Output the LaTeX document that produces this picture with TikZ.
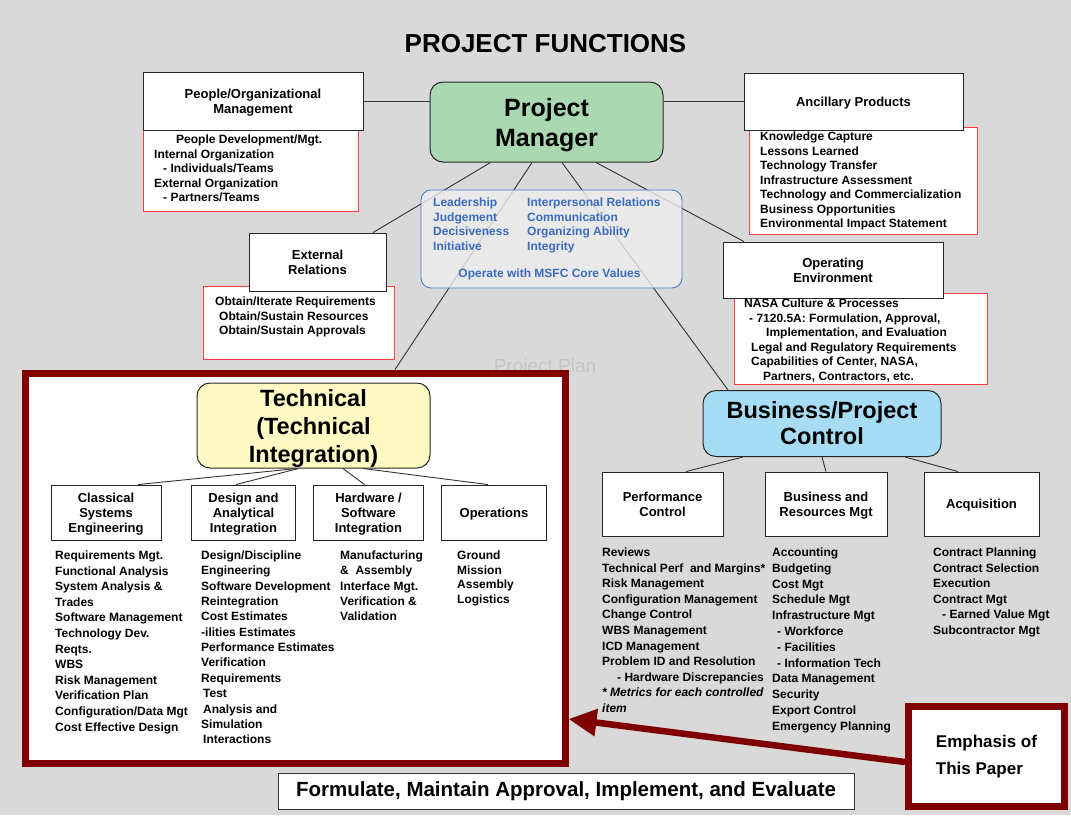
\documentclass[tikz,border=0pt]{standalone}
\usepackage{fontspec}
\setmainfont{Liberation Sans}
\usetikzlibrary{arrows.meta}
\definecolor{slidegray}{HTML}{D9D9D9}
\definecolor{pmgreen}{HTML}{A9D8B1}
\definecolor{techyellow}{HTML}{FFFAC3}
\definecolor{bizblue}{HTML}{A6DDF5}
\definecolor{coreblue}{HTML}{4A7BC8}
\definecolor{coretext}{HTML}{3B6BBF}
\definecolor{listred}{HTML}{FF3B3B}
\definecolor{darkred}{HTML}{7F0000}
\definecolor{ghost}{HTML}{C6C6C6}
\tikzset{
  headbox/.style={draw=black!85, fill=white, line width=0.9pt, align=center, inner sep=0pt, text depth=0pt,
    font=\fontsize{13}{15}\selectfont\bfseries},
  redbox/.style={draw=listred, fill=white, line width=1pt},
  listtext/.style={anchor=north west, align=left, inner sep=0pt,
    font=\fontsize{12}{14.5}\selectfont\bfseries},
  looselist/.style={listtext, font=\fontsize{12}{15.6}\selectfont\bfseries},
  bigbox/.style={draw=black!85, rounded corners=13pt, line width=1pt, align=center, inner sep=0pt},
  link/.style={draw=black!80, line width=0.9pt},
}
\begin{document}
\begin{tikzpicture}[x=1pt,y=-1pt]
            \useasboundingbox (0,0) rectangle (1071,815);
            \fill[slidegray] (0,0) rectangle (1071,815);
            \node[font=\fontsize{26}{30}\selectfont\bfseries] (title) at (545.5,44) {PROJECT FUNCTIONS};
            \node[text=ghost, font=\fontsize{19}{22}\selectfont] (plan) at (545,368) {Project Plan};
            % people / ancillary / external / operating
            \draw[redbox] (143,130) rectangle (358,211);
            \draw[redbox] (749,127) rectangle (977,234);
            \draw[redbox] (203,286) rectangle (394,359);
            \draw[redbox] (734,293) rectangle (987,384);
            \node[headbox, minimum width=220, minimum height=58] (people) at (253,101) {People/Organizational\\Management};
            \node[headbox, minimum width=219, minimum height=57] (ancil) at (853.5,101.5) {Ancillary Products};
            \node[headbox, minimum width=137, minimum height=58] (extrel) at (317.5,262) {External\\Relations};
            \node[headbox, minimum width=220, minimum height=56] (openv) at (833,270) {Operating\\Environment};
            \node[listtext] (peoplelist) at (154,134.6) {\hspace*{22pt}People Development/Mgt.\\Internal Organization\\\hspace*{9pt}- Individuals/Teams\\External Organization\\\hspace*{9pt}- Partners/Teams};
            \node[listtext] (ancillist) at (760,131.6) {Knowledge Capture\\Lessons Learned\\Technology Transfer\\Infrastructure Assessment\\Technology and Commercialization\\Business Opportunities\\Environmental Impact Statement};
            \node[listtext] (extlist) at (215,296.6) {Obtain/Iterate Requirements\\\hspace*{4pt}Obtain/Sustain Resources\\\hspace*{4pt}Obtain/Sustain Approvals};
            \node[listtext] (envlist) at (744,298.6) {NASA Culture \& Processes\\\hspace*{5pt}- 7120.5A: Formulation, Approval,\\\hspace*{22pt}Implementation, and Evaluation\\\hspace*{7pt}Legal and Regulatory Requirements\\\hspace*{7pt}Capabilities of Center, NASA,\\\hspace*{19pt}Partners, Contractors, etc.};
            % main boxes
            \node[bigbox, fill=pmgreen, minimum width=233, minimum height=80, text depth=0pt, font=\fontsize{25}{30}\selectfont\bfseries] (pm) at (546.5,122) {Project\\Manager};
            \node[draw=darkred, fill=white, line width=7pt, minimum width=540, minimum height=390] (techarea) at (295,568) {};
            \node[bigbox, fill=techyellow, minimum width=233, minimum height=85, text depth=0pt, font=\fontsize{23.5}{28}\selectfont\bfseries] (tech) at (313.5,425.5) {Technical\\(Technical\\Integration)};
            \node[bigbox, fill=bizblue, minimum width=238, minimum height=66, font=\fontsize{23.5}{26}\selectfont\bfseries] (bizctl) at (822,423.5) {Business/Project\\Control};
            % links from the project manager
            \draw[link] (pm.west |- people.east) -- (people.east);
            \draw[link] (pm.east |- ancil.west) -- (ancil.west);
            \draw[link] ([xshift=-56pt]pm.south) -- ([xshift=55.5pt]extrel.north);
            \draw[link] ([xshift=-14.5pt]pm.south) -- ([xshift=100pt]techarea.north);
            \draw[link] ([xshift=15.5pt]pm.south) -- ([xshift=-94pt]bizctl.north);
            \draw[link] ([xshift=49.5pt]pm.south) -- ([xshift=-89pt]openv.north);
            % leadership values
            \node[draw=coreblue, fill=white!93!black, fill opacity=0.8, line width=0.9pt, rounded corners=10pt, minimum width=261, minimum height=98] (values) at (551.5,239) {};
            \node[listtext, text=coretext] (valuesa) at (433,197.6) {Leadership\\Judgement\\Decisiveness\\Initiative};
            \node[listtext, text=coretext] (valuesb) at (527,197.6) {Interpersonal Relations\\Communication\\Organizing Ability\\Integrity};
            \node[listtext, anchor=base, text=coretext] (msfc) at (549.5,277.3) {Operate with MSFC Core Values};
            % technical integration
            \node[headbox, minimum width=110, minimum height=55] (clas) at (106,512.5) {Classical\\Systems\\Engineering};
            \node[headbox, minimum width=104, minimum height=55] (design) at (243.5,512.5) {Design and\\Analytical\\Integration};
            \node[headbox, minimum width=110, minimum height=55] (hwsw) at (368.5,512.5) {Hardware /\\Software\\Integration};
            \node[headbox, minimum width=105, minimum height=55] (ops) at (494,512.5) {Operations};
            \draw[link] ([xshift=-16.5pt]tech.south) -- ([xshift=32pt]clas.north);
            \draw[link] ([xshift=-15pt]tech.south) -- ([xshift=-7.5pt]design.north);
            \draw[link] ([xshift=29.5pt]tech.south) -- ([xshift=-4pt]hwsw.north);
            \draw[link] ([xshift=49.5pt]tech.south) -- ([xshift=-6pt]ops.north);
            \node[looselist] (claslist) at (55,550.6) {Requirements Mgt.\\Functional Analysis\\System Analysis \&\\Trades\\Software Management\\Technology Dev.\\Reqts.\\WBS\\Risk Management\\Verification Plan\\Configuration/Data Mgt\\Cost Effective Design};
            \node[listtext, font=\fontsize{12}{15.35}\selectfont\bfseries] (designlist) at (201,550.6) {Design/Discipline\\Engineering\\Software Development\\Reintegration\\Cost Estimates\\-ilities Estimates\\Performance Estimates\\Verification\\Requirements\\\hspace*{2pt}Test\\\hspace*{2pt}Analysis and\\Simulation\\\hspace*{2pt}Interactions};
            \node[listtext, font=\fontsize{12}{15.25}\selectfont\bfseries] (hwswlist) at (340,550.6) {Manufacturing\\\&\ \ Assembly\\Interface Mgt.\\Verification \&\\Validation};
            \node[listtext, font=\fontsize{12}{14.7}\selectfont\bfseries] (opslist) at (457,550.6) {Ground\\Mission\\Assembly\\Logistics};
            % business / project control
            \node[headbox, minimum width=121, minimum height=64] (perf) at (662.5,504) {Performance\\Control};
            \node[headbox, minimum width=122, minimum height=64] (bres) at (826,504) {Business and\\Resources Mgt};
            \node[headbox, minimum width=115, minimum height=64] (acq) at (981.5,504) {Acquisition};
            \draw[link] ([xshift=-79pt]bizctl.south) -- ([xshift=23.5pt]perf.north);
            \draw[link] (bizctl.south) -- (bres.north);
            \draw[link] ([xshift=83pt]bizctl.south) -- ([xshift=-23.5pt]acq.north);
            \node[looselist] (perflist) at (602,547.6) {Reviews\\Technical Perf\ \ and Margins*\\Risk Management\\Configuration Management\\Change Control\\WBS Management\\ICD Management\\Problem ID and Resolution\\\hspace*{15pt}- Hardware Discrepancies\\\itshape * Metrics for each controlled\\\itshape item};
            \node[looselist, font=\fontsize{12}{15.8}\selectfont\bfseries] (breslist) at (772,547.6) {Accounting\\Budgeting\\Cost Mgt\\Schedule Mgt\\Infrastructure Mgt\\\hspace*{5pt}- Workforce\\\hspace*{5pt}- Facilities\\\hspace*{5pt}- Information Tech\\Data Management\\Security\\Export Control\\Emergency Planning};
            \node[looselist] (acqlist) at (933,547.6) {Contract Planning\\Contract Selection\\Execution\\Contract Mgt\\\hspace*{9pt}- Earned Value Mgt\\Subcontractor Mgt};
            % emphasis
            \node[draw=darkred, fill=white, line width=7pt, minimum width=156, minimum height=100, align=left, font=\fontsize{17}{27}\selectfont\bfseries] (emph) at (986.5,756.5) {Emphasis of\\This Paper};
            \draw[darkred, line width=6.5pt, -{Triangle[length=28pt,width=26pt]}] ([yshift=-5.5pt]emph.west) -- ([yshift=-151pt]techarea.east);
            \node[draw=black!80, fill=white, line width=0.9pt, minimum width=576, minimum height=36, font=\fontsize{20.5}{24}\selectfont\bfseries] (motto) at (566,791) {Formulate, Maintain Approval, Implement, and Evaluate};
\end{tikzpicture}
\end{document}
